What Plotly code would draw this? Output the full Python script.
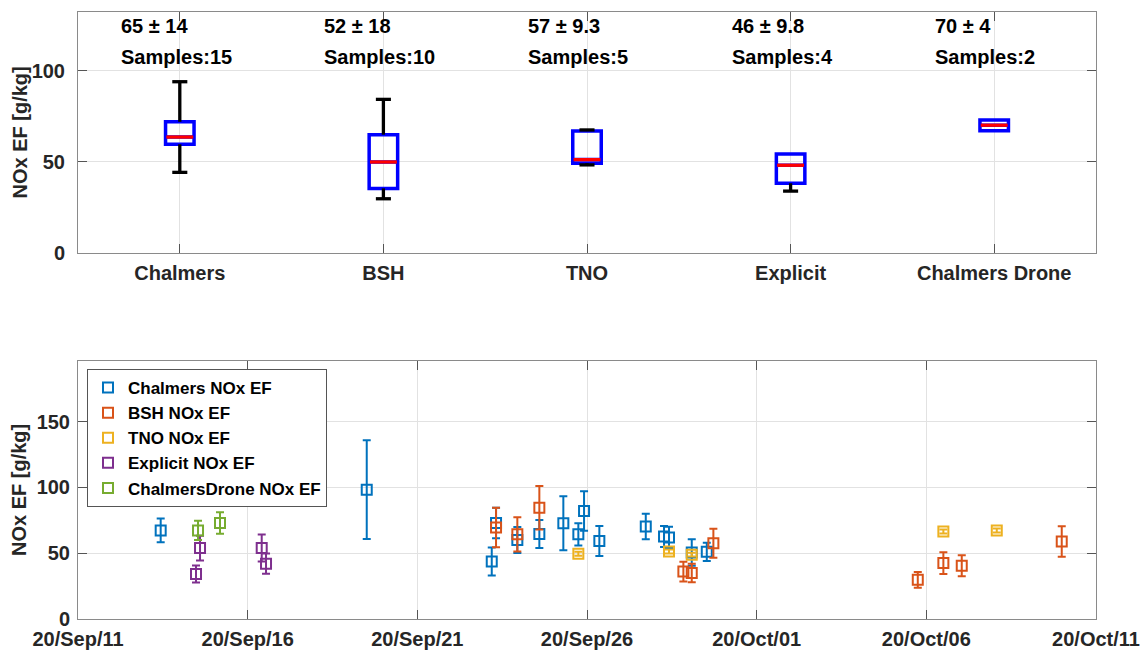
import plotly.graph_objects as go

# ---------------- data: top panel (box summary) ----------------
categories = ["Chalmers", "BSH", "TNO", "Explicit", "Chalmers Drone"]
box_q1 = [59.7, 35.5, 49.3, 38.3, 67.2]
box_median = [63.7, 50.0, 51.3, 48.2, 70.2]
box_q3 = [72.1, 65.0, 67.0, 54.4, 73.0]
whisker_low = [44.3, 29.8, 48.4, 34.0, 67.2]
whisker_high = [94.1, 84.4, 67.6, 54.4, 73.0]
mean_std_text = ["65 ± 14", "52 ± 18", "57 ± 9.3", "46 ± 9.8", "70 ± 4"]
n_samples = [15, 10, 5, 4, 2]

# ---------------- data: bottom panel (time series) ----------------
chalmers_t = ["2020-09-13 10:29", "2020-09-19 12:13", "2020-09-23 04:38", "2020-09-23 07:40",
              "2020-09-23 22:44", "2020-09-24 14:18", "2020-09-25 07:16", "2020-09-25 17:53",
              "2020-09-25 21:55", "2020-09-26 08:44", "2020-09-27 17:34", "2020-09-28 06:29",
              "2020-09-28 10:00", "2020-09-29 02:05", "2020-09-29 12:43"]
chalmers_ef = [67.3, 98.2, 43.7, 72.9, 60.0, 64.6, 72.7, 64.3, 82.0, 59.2, 70.3, 62.7, 62.0, 50.5, 51.0]
chalmers_err = [9.0, 37.5, 10.7, 11.6, 9.8, 10.7, 20.5, 8.5, 15.0, 11.4, 9.7, 8.0, 8.0, 10.0, 7.0]

bsh_t = ["2020-09-23 07:40", "2020-09-23 22:44", "2020-09-24 14:18", "2020-09-28 20:10",
         "2020-09-29 02:05", "2020-09-29 17:23", "2020-10-05 17:57", "2020-10-06 12:03",
         "2020-10-07 01:03", "2020-10-09 23:46"]
bsh_ef = [69.5, 64.3, 84.5, 36.0, 34.9, 57.5, 29.8, 42.5, 40.5, 58.9]
bsh_err = [15.0, 13.0, 16.5, 7.5, 7.0, 11.0, 6.0, 8.3, 8.0, 11.6]

tno_t = ["2020-09-25 17:53", "2020-09-28 10:00", "2020-09-29 02:05", "2020-10-06 12:03", "2020-10-08 01:49"]
tno_ef = [49.6, 51.3, 48.9, 66.5, 67.3]
tno_err = [1.5, 1.5, 1.5, 1.5, 1.5]

explicit_t = ["2020-09-14 11:28", "2020-09-14 14:18", "2020-09-16 09:56", "2020-09-16 12:59"]
explicit_ef = [34.2, 53.9, 53.9, 42.0]
explicit_err = [6.5, 9.4, 10.3, 7.7]

drone_t = ["2020-09-14 12:53", "2020-09-15 04:26"]
drone_ef = [67.3, 72.9]
drone_err = [7.3, 8.2]

# ---------------- styling ----------------
W, H = 1142, 650
FONT = "Liberation Sans, Arial, sans-serif"
TICKC = "#262626"
FRAME = "#8a8a8a"
GRID = "#e2e2e2"
BOX_W = 0.14
CAP = 0.037

fig = go.Figure()

# top panel -----------------------------------------------------
xpos = list(range(1, len(categories) + 1))
fig.add_trace(go.Box(
    x=xpos, q1=box_q1, median=box_median, q3=box_q3,
    lowerfence=box_q1, upperfence=box_q3,
    width=BOX_W, whiskerwidth=0,
    line=dict(color="#0000ff", width=3.5), fillcolor="rgba(0,0,0,0)",
    boxpoints=False, hoverinfo="skip", showlegend=False,
    xaxis="x", yaxis="y"))

wx, wy = [], []
for i, p in enumerate(xpos):
    if whisker_high[i] > box_q3[i]:
        wx += [p, p, None, p - CAP, p + CAP, None]
        wy += [box_q3[i], whisker_high[i], None, whisker_high[i], whisker_high[i], None]
    if whisker_low[i] < box_q1[i]:
        wx += [p, p, None, p - CAP, p + CAP, None]
        wy += [box_q1[i], whisker_low[i], None, whisker_low[i], whisker_low[i], None]
fig.add_trace(go.Scatter(x=wx, y=wy, mode="lines", line=dict(color="black", width=3.3),
                         showlegend=False, hoverinfo="skip", xaxis="x", yaxis="y"))

mx, my = [], []
for i, p in enumerate(xpos):
    mx += [p - BOX_W / 2 + 0.004, p + BOX_W / 2 - 0.004, None]
    my += [box_median[i], box_median[i], None]
fig.add_trace(go.Scatter(x=mx, y=my, mode="lines", line=dict(color="#ff0000", width=3.3),
                         showlegend=False, hoverinfo="skip", xaxis="x", yaxis="y"))

annotations = []
for i, p in enumerate(xpos):
    annotations.append(dict(x=p - 0.3, y=124.7, xref="x", yref="y", text=mean_std_text[i],
                            showarrow=False, xanchor="left", yanchor="middle",
                            font=dict(family=FONT, size=20, color="black", weight="bold")))
    annotations.append(dict(x=p - 0.3, y=107.7, xref="x", yref="y", text=f"Samples:{n_samples[i]}",
                            showarrow=False, xanchor="left", yanchor="middle",
                            font=dict(family=FONT, size=20, color="black", weight="bold")))

# bottom panel --------------------------------------------------
series = [
    ("Chalmers NOx EF", chalmers_t, chalmers_ef, chalmers_err, "#0072BD"),
    ("BSH NOx EF", bsh_t, bsh_ef, bsh_err, "#D95319"),
    ("TNO NOx EF", tno_t, tno_ef, tno_err, "#EDB120"),
    ("Explicit NOx EF", explicit_t, explicit_ef, explicit_err, "#7E2F8E"),
    ("ChalmersDrone NOx EF", drone_t, drone_ef, drone_err, "#77AC30"),
]
for name, t, v, e, c in series:
    fig.add_trace(go.Scatter(
        x=t, y=v, name=name, mode="markers",
        marker=dict(symbol="square-open", size=10, color=c, line=dict(width=2, color=c)),
        error_y=dict(type="data", array=e, visible=True, color=c, thickness=2, width=4),
        xaxis="x2", yaxis="y2"))

# y titles
for yc in [(H - 132.5) / H, (H - 490) / H]:
    annotations.append(dict(x=19 / W, y=yc, xref="paper", yref="paper", text="NOx EF [g/kg]",
                            textangle=-90, showarrow=False, xanchor="center", yanchor="middle",
                            font=dict(family=FONT, size=20, color=TICKC, weight="bold")))

xdom = [78 / W, 1096 / W]
axis_common = dict(showline=True, linecolor=FRAME, linewidth=1, mirror="ticks",
                   ticks="inside", ticklen=9, tickcolor="#555555", tickwidth=1,
                   showgrid=True, gridcolor=GRID, gridwidth=1, zeroline=False,
                   tickfont=dict(family=FONT, size=20, color=TICKC, weight="bold"),
                   automargin=False)

fig.update_layout(
    width=W, height=H,
    margin=dict(l=0, r=0, t=0, b=0),
    paper_bgcolor="white", plot_bgcolor="white",
    font=dict(family=FONT, color=TICKC),
    xaxis=dict(domain=xdom, anchor="y", range=[0.5, 5.5], tickmode="array",
               tickvals=xpos, ticktext=categories, ticklabelstandoff=2, **axis_common),
    yaxis=dict(domain=[1 - 253 / H, 1 - 12 / H], anchor="x", range=[0, 132.4],
               tickvals=[0, 50, 100], ticklabelstandoff=8, **axis_common),
    xaxis2=dict(domain=xdom, anchor="y2", type="date",
                range=["2020-09-11", "2020-10-11"], tick0="2020-09-11",
                dtick=5 * 86400000, tickformat="%y/%b/%d", ticklabelstandoff=2, **axis_common),
    yaxis2=dict(domain=[1 - 619 / H, 1 - 361 / H], anchor="x2", range=[0, 196],
                tickvals=[0, 50, 100, 150], ticklabelstandoff=3, **axis_common),
    legend=dict(x=87 / W, y=1 - 369 / H, xanchor="left", yanchor="top",
                bgcolor="white", bordercolor="#555555", borderwidth=1,
                font=dict(family=FONT, size=17, color="black", weight="bold"),
                tracegroupgap=0, itemwidth=30),
    annotations=annotations,
    showlegend=True,
)

fig.write_html("out.html")
